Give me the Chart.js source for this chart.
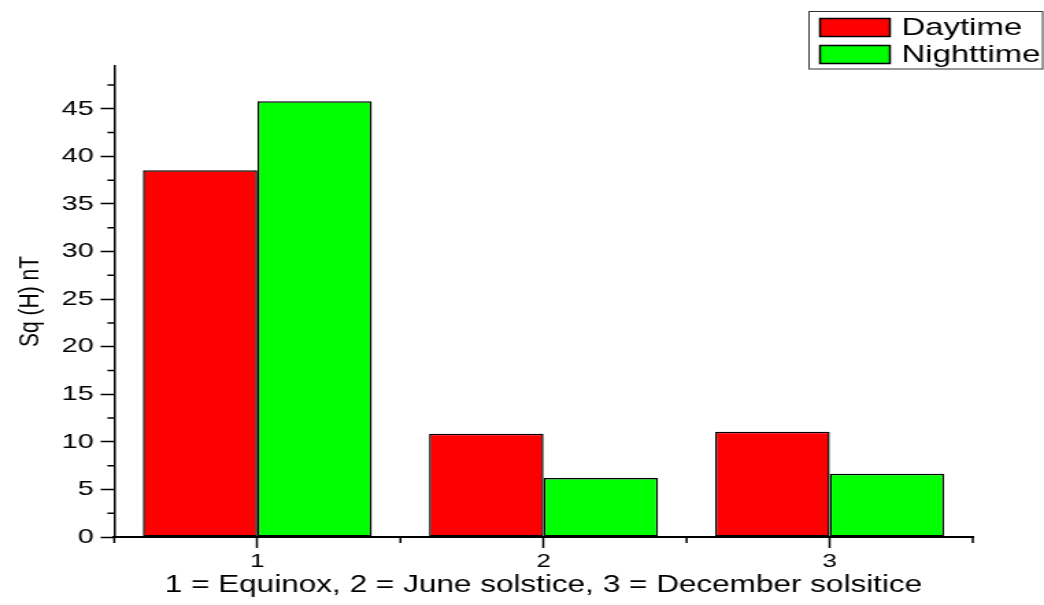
<!DOCTYPE html>
<html>
<head>
<meta charset="utf-8">
<title>Sq(H) nT</title>
<script src="https://cdn.jsdelivr.net/npm/chart.js@4.4.1/dist/chart.umd.min.js"></script>
<style>
  html, body { margin: 0; padding: 0; background: #fff; overflow: hidden; }
  /* the reference picture is stretched sideways, so the chart is drawn narrow and widened */
  #wrap { width: 762px; height: 605px; transform: scaleX(1.3701); transform-origin: 0 0; }
</style>
</head>
<body>
<div id="wrap"><canvas id="chart" width="762" height="605"></canvas></div>
<script>
const categories = ["1", "2", "3"];
const seriesNames = ["Daytime", "Nighttime"];
const daytime = [38.55, 10.85, 11.05];
const nighttime = [45.8, 6.2, 6.65];
const yMax = 49.5;
const yStep = 5;
const xTitle = "1 = Equinox, 2 = June solstice, 3 = December solsitice";
const yTitle = "Sq (H) nT";

const FONT = "'Liberation Sans', Arial, sans-serif";

// short ticks between the labelled ones, and the boxed legend in the corner
const extras = {
  id: "extras",
  afterDraw(chart) {
    const ctx = chart.ctx;
    const x = chart.scales.x;
    const y = chart.scales.y;
    ctx.save();
    ctx.strokeStyle = "#000";

    ctx.lineWidth = 1.5;
    ctx.beginPath();
    for (let v = yStep / 2; v < yMax; v += yStep) {
      const py = y.getPixelForValue(v);
      ctx.moveTo(y.right - 5, py);
      ctx.lineTo(y.right, py);
    }
    ctx.stroke();

    ctx.lineWidth = 1.5;
    ctx.beginPath();
    for (let i = -0.5; i < categories.length; i += 1) {
      const px = x.getPixelForValue(i);
      ctx.moveTo(px, x.top);
      ctx.lineTo(px, x.top + 6);
    }
    ctx.stroke();

    // legend
    const boxL = 590.5, boxT = 11.5, boxR = 761, boxB = 69;
    ctx.lineWidth = 1;
    ctx.strokeStyle = "#333";
    ctx.strokeRect(boxL, boxT, boxR - boxL, boxB - boxT);
    const rows = [27.5, 54.5];
    ctx.font = "24px " + FONT;
    ctx.textBaseline = "middle";
    ctx.textAlign = "left";
    chart.data.datasets.forEach((ds, i) => {
      const cy = rows[i];
      ctx.fillStyle = ds.backgroundColor;
      ctx.fillRect(598.5, cy - 9, 51, 18);
      ctx.strokeStyle = "#000";
      ctx.lineWidth = 1.5;
      ctx.strokeRect(598.5, cy - 9, 51, 18);
      ctx.fillStyle = "#000";
      ctx.fillText(ds.label, 658, cy + 1);
    });
    ctx.restore();
  }
};

new Chart(document.getElementById("chart"), {
  type: "bar",
  data: {
    labels: categories,
    datasets: [
      {
        label: seriesNames[0],
        data: daytime,
        backgroundColor: "#ff0000",
        borderColor: "#000",
        borderWidth: 1.5,
        borderSkipped: false
      },
      {
        label: seriesNames[1],
        data: nighttime,
        backgroundColor: "#00ff00",
        borderColor: "#000",
        borderWidth: 1.5,
        borderSkipped: false
      }
    ]
  },
  options: {
    responsive: false,
    animation: false,
    categoryPercentage: 0.8,
    barPercentage: 1.0,
    layout: { padding: { top: 66, right: 52, bottom: 0, left: 0 } },
    plugins: {
      legend: { display: false },
      tooltip: { enabled: false }
    },
    scales: {
      x: {
        offset: true,
        afterFit: (scale) => { scale.height = 68; },
        grid: {
          offset: false,
          drawOnChartArea: false,
          drawTicks: true,
          tickLength: 11,
          tickWidth: 1.5,
          tickColor: "#000"
        },
        border: { display: true, color: "#000", width: 2 },
        ticks: {
          color: "#000",
          padding: 2,
          font: { family: FONT, size: 19 }
        },
        title: {
          display: true,
          text: xTitle,
          color: "#000",
          font: { family: FONT, size: 23 },
          padding: { top: 0, bottom: 6 }
        }
      },
      y: {
        min: 0,
        max: yMax,
        afterFit: (scale) => { scale.width = 83.4; },
        afterBuildTicks: (scale) => {
          scale.ticks = scale.ticks.filter(t => t.value % yStep === 0);
        },
        grid: {
          drawOnChartArea: false,
          drawTicks: true,
          tickLength: 10,
          tickWidth: 1.5,
          tickColor: "#000"
        },
        border: { display: true, color: "#000", width: 1.5 },
        ticks: {
          stepSize: yStep,
          color: "#000",
          padding: 5,
          font: { family: FONT, size: 21 }
        },
        title: {
          display: true,
          text: yTitle,
          color: "#000",
          font: { family: FONT, size: 21 },
          padding: { top: 10, bottom: 0 }
        }
      }
    }
  },
  plugins: [extras]
});
</script>
</body>
</html>
